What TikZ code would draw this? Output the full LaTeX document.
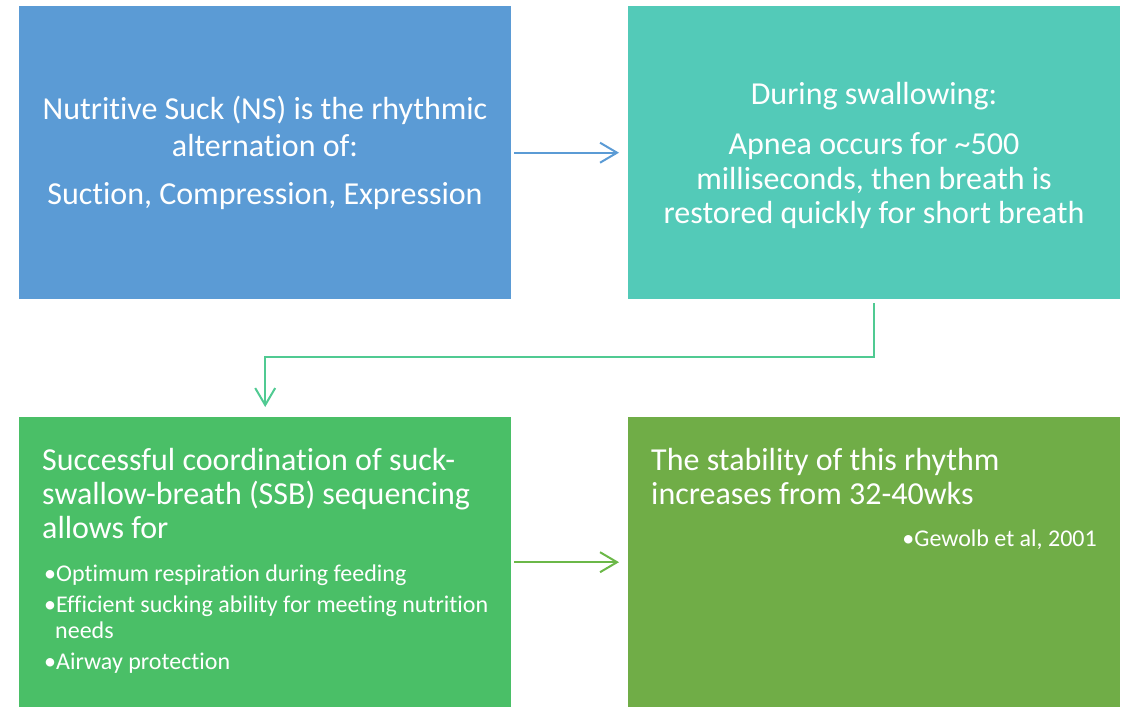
\documentclass[tikz,border=0pt]{standalone}
\usepackage{fontspec}
\setmainfont{Carlito}[RawFeature={-liga}]
\usetikzlibrary{arrows.meta}
\definecolor{nsblue}{HTML}{5B9BD5}
\definecolor{swteal}{HTML}{53CAB8}
\definecolor{ssbgreen}{HTML}{4ABF67}
\definecolor{stabgreen}{HTML}{70AD47}
\definecolor{linkteal}{HTML}{50CA92}
\definecolor{linkgreen}{HTML}{6BB848}
\tikzset{
  x=1pt, y=-1pt,
  panel/.style={draw=none, inner sep=0pt, minimum width=492pt, anchor=north west},
  big/.style={text=white, inner sep=0pt, anchor=base, font=\fontsize{32}{38}\selectfont},
  small/.style={text=white, inner sep=0pt, anchor=base west, font=\fontsize{24}{29}\selectfont},
  link/.style={line width=2pt, -{Straight Barb[length=17pt, width=20pt, line width=2pt]}},
}
\begin{document}
\begin{tikzpicture}
\useasboundingbox (0,0) rectangle (1126,707);
% four panels
\node[panel, fill=nsblue,    minimum height=293pt] (ns)   at (19,6)    {};
\node[panel, fill=swteal,    minimum height=293pt] (swal) at (628,6)   {};
\node[panel, fill=ssbgreen,  minimum height=290pt] (ssb)  at (19,417)  {};
\node[panel, fill=stabgreen, minimum height=290pt] (stab) at (628,417) {};

% panel 1 text
\node[big] (ns1) at (265,119) {Nutritive Suck (NS) is the rhythmic};
\node[big] (ns2) at (265,156) {alternation of:};
\node[big] (ns3) at (265,204) {Suction, Compression, Expression};

% panel 2 text
\node[big] (sw1) at (874,104) {During swallowing:};
\node[big] (sw2) at (874,154) {Apnea occurs for \textasciitilde500};
\node[big] (sw3) at (874,189) {milliseconds, then breath is};
\node[big] (sw4) at (874,223) {restored quickly for short breath};

% panel 3 text
\node[big, anchor=base west] (ssb1) at (42,470) {Successful coordination of suck-};
\node[big, anchor=base west] (ssb2) at (42,504) {swallow-breath (SSB) sequencing};
\node[big, anchor=base west] (ssb3) at (42,538) {allows for};
\node[small] (bl1) at (44,581) {•Optimum respiration during feeding};
\node[small] (bl2) at (44,612) {•Efficient sucking ability for meeting nutrition};
\node[small] (bl3) at (55,638) {needs};
\node[small] (bl4) at (44,669) {•Airway protection};

% panel 4 text
\node[big, anchor=base west] (st1) at (651,470) {The stability of this rhythm};
\node[big, anchor=base west] (st2) at (651,504) {increases from 32-40wks};
\node[small, anchor=base east] (st3) at (1097,546) {•Gewolb et al, 2001};

% connectors
\draw[link, draw=nsblue, shorten <=3pt, shorten >=9pt] (ns.east) -- (swal.west);
\draw[link, draw=linkteal, shorten <=4pt, shorten >=10pt] (swal.south) -- ++(0,58) -| (ssb.north);
\draw[link, draw=linkgreen, shorten <=3pt, shorten >=9pt] (ssb.east) -- (stab.west);
\end{tikzpicture}
\end{document}
